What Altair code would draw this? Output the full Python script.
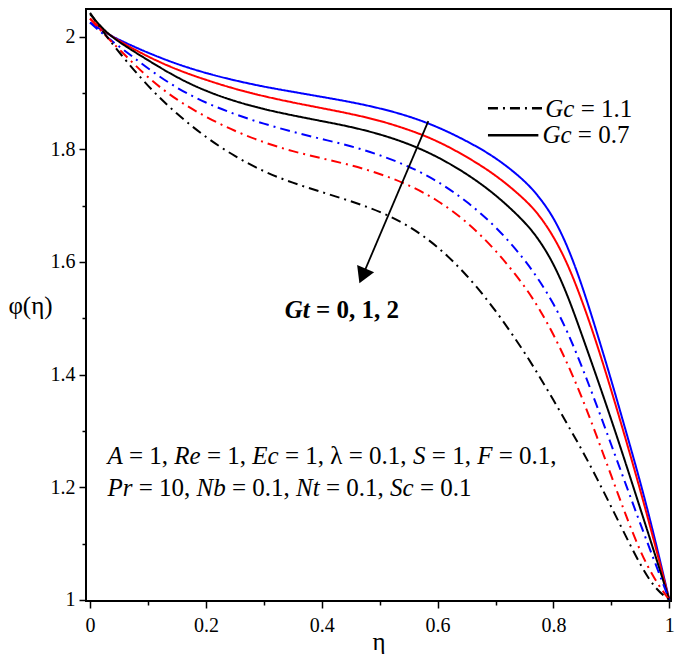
import altair as alt
import pandas as pd

# ---------------- data ----------------
eta = [0, 0.025, 0.05, 0.1, 0.15, 0.2, 0.25, 0.3, 0.35, 0.4, 0.45, 0.5, 0.55, 0.6, 0.65, 0.7,
       0.75, 0.775, 0.8, 0.825, 0.85, 0.875, 0.9, 0.925, 0.95, 0.975, 1.0]

# Gc = 0.7 (solid)
phi_gc07_gt0 = [2.025, 2.008, 1.994, 1.971, 1.951, 1.935, 1.922, 1.911, 1.902, 1.893, 1.884, 1.873, 1.859, 1.840,
                1.815, 1.786, 1.745, 1.716, 1.680, 1.627, 1.557, 1.475, 1.390, 1.300, 1.210, 1.110, 1.0]
phi_gc07_gt1 = [2.032, 2.009, 1.992, 1.964, 1.941, 1.923, 1.907, 1.894, 1.883, 1.873, 1.863, 1.851, 1.835, 1.815,
                1.787, 1.755, 1.712, 1.684, 1.646, 1.596, 1.530, 1.455, 1.372, 1.285, 1.195, 1.100, 1.0]
phi_gc07_gt2 = [2.040, 2.010, 1.990, 1.958, 1.927, 1.903, 1.885, 1.871, 1.860, 1.850, 1.840, 1.827, 1.810, 1.787,
                1.757, 1.720, 1.672, 1.640, 1.598, 1.540, 1.468, 1.395, 1.320, 1.242, 1.162, 1.082, 1.0]
# Gc = 1.1 (dash-dot)
phi_gc11_gt0 = [2.025, 2.002, 1.983, 1.943, 1.908, 1.882, 1.862, 1.845, 1.831, 1.818, 1.806, 1.790, 1.770, 1.744,
                1.708, 1.664, 1.605, 1.568, 1.527, 1.475, 1.412, 1.345, 1.275, 1.205, 1.135, 1.067, 1.0]
phi_gc11_gt1 = [2.032, 2.003, 1.978, 1.926, 1.887, 1.857, 1.832, 1.812, 1.796, 1.784, 1.772, 1.757, 1.737, 1.710,
                1.672, 1.622, 1.558, 1.518, 1.472, 1.418, 1.358, 1.290, 1.220, 1.150, 1.085, 1.035, 1.0]
phi_gc11_gt2 = [2.042, 2.005, 1.972, 1.911, 1.862, 1.821, 1.787, 1.760, 1.740, 1.724, 1.708, 1.690, 1.665, 1.628,
                1.578, 1.515, 1.440, 1.398, 1.355, 1.310, 1.265, 1.216, 1.165, 1.113, 1.062, 1.020, 1.0]

gt_values = ["0", "1", "2"]
gt_colors = ["#0000ff", "#ff0000", "#000000"]
gc_styles = ["1.1", "0.7"]

x_ticks = [round(0.1 * i, 1) for i in range(11)]
y_ticks = [round(1 + 0.1 * i, 1) for i in range(11)]

# ---------------- layout constants ----------------
W, H = 585, 592
XDOM = [-0.007, 1.003]
YDOM = [0.998, 2.049]
PXX = W / (XDOM[1] - XDOM[0])
FONT = "Liberation Serif"

rows = []
for gc, curves in [("0.7", [phi_gc07_gt0, phi_gc07_gt1, phi_gc07_gt2]),
                   ("1.1", [phi_gc11_gt0, phi_gc11_gt1, phi_gc11_gt2])]:
    for gt, vals in zip(gt_values, curves):
        for e, p in zip(eta, vals):
            rows.append({"eta": e, "phi": p, "Gt": gt, "Gc": gc, "key": gc + "_" + gt})
df = pd.DataFrame(rows)

xs = alt.Scale(domain=XDOM, nice=False, zero=False)
ys = alt.Scale(domain=YDOM, nice=False, zero=False)

major = "round(datum.value*10) % 2 === 0"
x_axis = alt.Axis(values=x_ticks, format=".1~f", labelExpr=major + " ? datum.label : ''",
                  tickSize={"condition": {"test": major, "value": 7}, "value": 4},
                  domain=False, grid=False, labelFont=FONT, labelFontSize=20, labelColor="black",
                  tickColor="black", tickWidth=1.5, labelPadding=7, labelOverlap=False, labelFlush=False,
                  title="η", titleFont=FONT, titleFontSize=25, titleFontWeight="normal", titleColor="black",
                  titleBaseline="alphabetic", titleY=48)
y_axis = alt.Axis(values=y_ticks, format=".1~f", labelExpr=major + " ? datum.label : ''",
                  tickSize={"condition": {"test": major, "value": 7}, "value": 4},
                  domain=False, grid=False, labelFont=FONT, labelFontSize=20, labelColor="black",
                  tickColor="black", tickWidth=1.5, labelPadding=4, labelOverlap=False, labelFlush=False,
                  title="φ(η)", titleFont=FONT, titleFontSize=25, titleFontWeight="normal", titleColor="black",
                  titleAngle=0, titleAlign="center", titleBaseline="middle", titleX=-56, titleY=296)

lines = alt.Chart(df).mark_line(strokeWidth=2, interpolate="basis", clip=True).encode(
    x=alt.X("eta:Q", scale=xs, axis=x_axis),
    y=alt.Y("phi:Q", scale=ys, axis=y_axis),
    color=alt.Color("Gt:N", scale=alt.Scale(domain=gt_values, range=gt_colors), legend=None),
    strokeDash=alt.StrokeDash("Gc:N", scale=alt.Scale(domain=gc_styles, range=[[10, 5, 2, 5], [1, 0]]), legend=None),
    detail="key:N",
)

leg_df = pd.DataFrame({"x": [0.687, 0.687], "x2": [0.783, 0.774], "y": [1.873, 1.825], "Gc": gc_styles})
leg_lines = alt.Chart(leg_df).mark_rule(strokeWidth=2.5, color="black").encode(
    x=alt.X("x:Q", scale=xs), x2="x2:Q", y=alt.Y("y:Q", scale=ys),
    strokeDash=alt.StrokeDash("Gc:N", scale=alt.Scale(domain=gc_styles, range=[[17, 9, 3, 9], [1, 0]]), legend=None),
)

MET = {
    "n": {" ": .25, ",": .25, ".": .25, "=": .564, "λ": .5},
    "i": {"A": .611, "R": .611, "e": .444, "E": .611, "c": .444, "S": .5, "F": .611, "P": .611,
          "r": .389, "N": .667, "b": .5, "t": .278, "G": .722},
    "b": {" ": .25, ",": .25, "=": .57},
    "bi": {"G": .722, "t": .278},
}


def seg_width(text, style):
    return sum(MET[style].get(ch, .5) for ch in text)


def layout(segs, x0, y0, size):
    out = []
    off = 0.0
    for text, style in segs:
        lead = len(text) - len(text.lstrip(" "))
        out.append({"x": x0 + (off + lead * .25 * size) / PXX, "y": y0, "t": text.strip(), "s": style})
        off += seg_width(text, style) * size
    return out


line1 = [("A", "i"), (" = 1, ", "n"), ("Re", "i"), (" = 1, ", "n"), ("Ec", "i"), (" = 1, λ = 0.1, ", "n"),
         ("S", "i"), (" = 1, ", "n"), ("F", "i"), (" = 0.1,", "n")]
line2 = [("Pr", "i"), (" = 10, ", "n"), ("Nb", "i"), (" = 0.1, ", "n"), ("Nt", "i"), (" = 0.1, ", "n"),
         ("Sc", "i"), (" = 0.1", "n")]
leg1 = [("Gc", "i"), (" = 1.1", "n")]
leg2 = [("Gc", "i"), (" = 0.7", "n")]
gtl = [("Gt", "bi"), (" = 0, 1, 2", "b")]

segs25 = (layout(line1, 0.030, 1.241, 25) + layout(line2, 0.030, 1.185, 25)
          + layout(leg1, 0.786, 1.857, 25) + layout(leg2, 0.781, 1.811, 25)
          + layout(gtl, 0.336, 1.500, 25))
tdf = pd.DataFrame(segs25)
tdf["size"] = 25


def text_layer(style, italic, bold):
    sub = tdf[tdf["s"] == style]
    return alt.Chart(sub).mark_text(align="left", baseline="alphabetic", font=FONT,
                                    fontStyle="italic" if italic else "normal",
                                    fontWeight="bold" if bold else "normal", color="black").encode(
        x=alt.X("x:Q", scale=xs), y=alt.Y("y:Q", scale=ys), text="t:N",
        size=alt.Size("size:Q", scale=None, legend=None))


texts = [text_layer("n", False, False), text_layer("i", True, False),
         text_layer("b", False, True), text_layer("bi", True, True)]

arrow_df = pd.DataFrame({"x": [0.584], "y": [1.850], "x2": [0.4704], "y2": [1.575]})
arrow = alt.Chart(arrow_df).mark_rule(strokeWidth=1.8, color="black").encode(
    x=alt.X("x:Q", scale=xs), y=alt.Y("y:Q", scale=ys), x2="x2:Q", y2="y2:Q")
head = alt.Chart(arrow_df).mark_point(shape="triangle-down", filled=True, size=340, angle=23,
                                      color="black", opacity=1).encode(
    x=alt.X("x2:Q", scale=xs), y=alt.Y("y2:Q", scale=ys))

chart = alt.layer(lines, leg_lines, arrow, head, *texts).properties(
    width=W, height=H,
    autosize=alt.AutoSizeParams(type="none"),
    padding={"left": 78, "top": 1, "right": 6, "bottom": 53},
    background="white",
).configure_view(stroke="black", strokeWidth=2)

chart.save("out.html", embed_options={"renderer": "svg", "actions": False})
